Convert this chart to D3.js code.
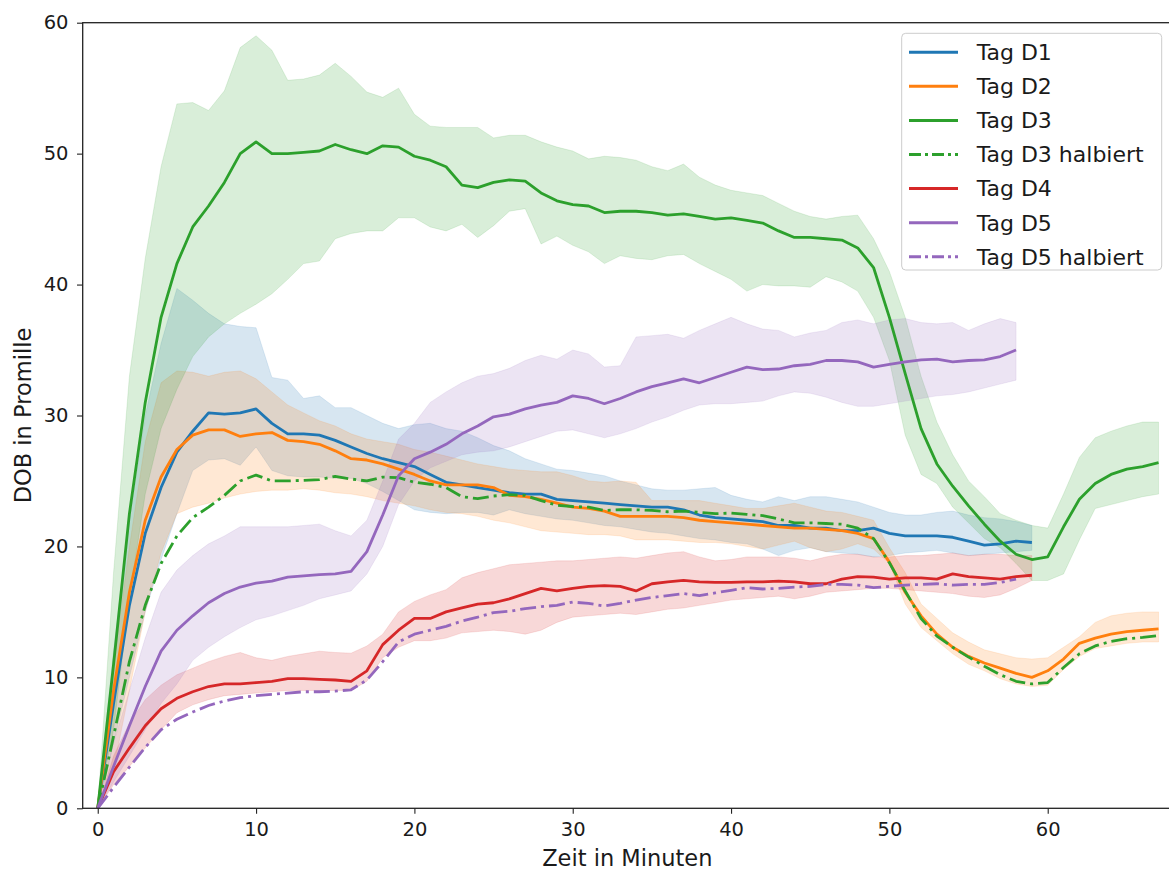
<!DOCTYPE html>
<html>
<head>
<meta charset="utf-8">
<script src="https://cdn.jsdelivr.net/npm/d3@7"></script>
<style>
  body { margin: 0; background: #fff; }
  svg { display: block; font-family: "DejaVu Sans", sans-serif; }
</style>
</head>
<body>
<svg id="chart" width="1169" height="870"></svg>
<script>
// values, one entry per minute (index = minute)
const d1Mean = [0, 8, 15.5, 21, 24.5, 27.2, 28.8, 30.2, 30.1, 30.2, 30.5, 29.4, 28.6, 28.6, 28.5, 28.1, 27.6, 27.1, 26.7, 26.4,
  26.1, 25.5, 24.9, 24.7, 24.5, 24.3, 24.1, 24.0, 24.0, 23.6, 23.5, 23.4, 23.3, 23.2, 23.1, 23.0, 23.0, 22.8, 22.4, 22.2,
  22.1, 22.0, 21.9, 21.6, 21.6, 21.4, 21.4, 21.2, 21.2, 21.4, 21.0, 20.8, 20.8, 20.8, 20.7, 20.4, 20.1, 20.2, 20.4, 20.3];
const d1High = [0, 12, 22, 30, 35.5, 39.7, 38.8, 37.8, 37.0, 36.8, 36.7, 32.9, 32.7, 31.3, 31.5, 30.6, 30.6, 30.0, 29.4, 29.0,
  29.3, 29.4, 29.0, 28.8, 28.3, 27.7, 27.3, 26.7, 26.3, 25.9, 25.8, 25.6, 25.4, 25.0, 24.7, 24.4, 24.3, 24.3, 24.4, 24.5,
  23.9, 23.6, 23.4, 23.8, 23.5, 23.8, 23.8, 23.6, 23.4, 23.0, 22.6, 22.4, 22.4, 22.6, 22.7, 22.4, 22.2, 22.1, 21.9, 21.6];
const d1Low = [0, 5, 10, 15, 19, 22.5, 25.8, 26.6, 26.7, 26.2, 27.6, 25.8, 25.4, 25.3, 25.3, 25.2, 25.2, 24.8, 24.2, 23.5,
  22.8, 22.6, 22.5, 22.6, 22.6, 22.4, 22.8, 22.5, 22.3, 22.1, 22.0, 21.8, 21.6, 21.5, 21.3, 21.1, 21.0, 20.8, 20.6, 20.5,
  20.3, 20.2, 19.8, 19.3, 19.7, 19.9, 19.6, 19.5, 19.4, 19.2, 19.3, 19.5, 19.6, 19.7, 19.5, 19.3, 19.4, 19.5, 19.6, 19.7];

const d2Mean = [0, 9, 16.5, 22, 25.3, 27.4, 28.5, 28.9, 28.9, 28.4, 28.6, 28.7, 28.1, 28.0, 27.8, 27.3, 26.7, 26.6, 26.3, 25.9,
  25.5, 25.0, 24.7, 24.7, 24.7, 24.5, 23.9, 23.8, 23.6, 23.3, 23.0, 22.9, 22.7, 22.3, 22.3, 22.3, 22.3, 22.2, 22.0, 21.9,
  21.8, 21.7, 21.6, 21.5, 21.4, 21.4, 21.3, 21.2, 21.0, 20.6, 18.8, 16.5, 14.7, 13.3, 12.3, 11.6, 11.1, 10.7, 10.3, 10.0,
  10.5, 11.4, 12.6, 13.0, 13.3, 13.5, 13.6, 13.7];
const d2High = [0, 11, 20, 28, 32.5, 33.4, 33.3, 33.0, 33.3, 33.4, 32.8, 31.8, 30.8, 30.2, 29.6, 29.2, 28.6, 28.2, 28.0, 27.8,
  27.4, 27.2, 26.9, 26.6, 26.3, 26.1, 25.9, 25.8, 25.7, 25.7, 25.4, 25.0, 24.9, 25.0, 24.9, 23.5, 23.5, 23.5, 23.5, 23.3,
  23.1, 22.9, 22.9, 23.1, 23.3, 23.0, 22.7, 22.6, 22.3, 22.0, 19.9, 18.0, 15.6, 14.5, 13.4, 12.7, 12.1, 11.8, 11.5, 11.4,
  11.5, 12.3, 13.1, 14.2, 14.7, 14.9, 15.0, 15.0];
const d2Low = [0, 3, 9, 15, 19.5, 22.5, 23.0, 23.3, 23.7, 24.0, 24.2, 24.3, 24.3, 24.4, 24.3, 24.1, 24.0, 23.8, 23.5, 23.3,
  23.1, 22.8, 22.6, 22.5, 22.3, 22.0, 21.8, 21.5, 21.2, 21.1, 21.0, 20.9, 20.9, 20.8, 20.5, 20.5, 20.5, 20.4, 20.3, 20.3,
  20.2, 20.0, 19.8, 20.1, 20.4, 19.9, 19.6, 19.8, 20.2, 19.8, 18.7, 15.6, 13.8, 12.8, 11.8, 11.0, 10.5, 9.9, 9.5, 9.3,
  9.4, 10.6, 11.6, 12.2, 12.4, 12.6, 12.7, 12.7];

const d3Mean = [0, 11, 22.5, 31, 37.5, 41.6, 44.4, 46.0, 47.8, 50.0, 50.9, 50.0, 50.0, 50.1, 50.2, 50.7, 50.3, 50.0, 50.6, 50.5,
  49.8, 49.5, 49.0, 47.6, 47.4, 47.8, 48.0, 47.9, 47.0, 46.4, 46.1, 46.0, 45.5, 45.6, 45.6, 45.5, 45.3, 45.4, 45.2, 45.0,
  45.1, 44.9, 44.7, 44.1, 43.6, 43.6, 43.5, 43.4, 42.8, 41.3, 37.5, 33.2, 29.0, 26.3, 24.6, 23.1, 21.7, 20.4, 19.4, 19.0,
  19.2, 21.5, 23.6, 24.8, 25.5, 25.9, 26.1, 26.4];
const d3High = [0, 18, 33, 42, 49, 53.8, 53.9, 53.3, 54.8, 58.1, 59.0, 57.9, 55.6, 55.7, 56.0, 56.9, 55.9, 54.7, 54.3, 55.0,
  53.0, 52.1, 52.0, 52.0, 52.0, 51.2, 51.4, 51.4, 50.9, 50.5, 50.2, 49.6, 49.8, 49.7, 49.5, 49.0, 48.7, 49.2, 48.2, 47.6,
  47.2, 47.0, 46.8, 46.2, 45.6, 45.2, 45.0, 45.2, 45.3, 43.5, 41.0, 37.5, 33.0, 29.5, 27.0, 25.0, 23.8, 22.5, 22.0, 21.6,
  21.4, 24.0, 26.8, 28.3, 28.8, 29.2, 29.5, 29.5];
const d3Low = [0, 6, 16, 24, 29, 32, 34.5, 36, 37, 37.8, 38.5, 39.3, 40.4, 41.6, 41.8, 43.5, 43.9, 44.1, 44.1, 45.1,
  45.1, 44.4, 44.1, 44.6, 43.6, 44.5, 45.6, 45.8, 43.1, 43.7, 43.0, 42.5, 41.6, 42.2, 42.0, 41.9, 42.2, 42.3, 41.6, 41.0,
  40.4, 39.5, 40.0, 39.9, 39.9, 39.8, 40.6, 40.2, 39.5, 37.5, 34.2, 28.5, 25.5, 24.8, 23.0, 21.8, 20.6, 19.9, 18.7, 17.4,
  17.4, 17.9, 20.5, 22.9, 23.2, 23.5, 23.8, 24.0];
const d3Half = [0, 5.5, 11.2, 15.5, 18.7, 20.8, 22.2, 23.0, 23.9, 25.0, 25.45, 25.0, 25.0, 25.05, 25.1, 25.35, 25.15, 25.0, 25.3, 25.25,
  24.9, 24.75, 24.5, 23.8, 23.65, 23.85, 23.95, 23.9, 23.5, 23.15, 23.05, 23.0, 22.75, 22.8, 22.8, 22.75, 22.65, 22.7, 22.6, 22.5,
  22.55, 22.45, 22.35, 22.1, 21.8, 21.8, 21.75, 21.7, 21.4, 20.6, 18.75, 16.6, 14.5, 13.15, 12.3, 11.55, 10.85, 10.2, 9.7, 9.5,
  9.6, 10.75, 11.8, 12.4, 12.75, 12.95, 13.05, 13.2];

const d4Mean = [0, 2.8, 4.6, 6.3, 7.6, 8.4, 8.9, 9.3, 9.5, 9.5, 9.6, 9.7, 9.9, 9.9, 9.85, 9.8, 9.7, 10.5, 12.5, 13.6,
  14.5, 14.5, 15.0, 15.3, 15.6, 15.7, 16.0, 16.4, 16.8, 16.6, 16.8, 16.95, 17.0, 16.95, 16.6, 17.15, 17.3, 17.4, 17.3, 17.25,
  17.25, 17.3, 17.3, 17.35, 17.3, 17.15, 17.15, 17.5, 17.7, 17.65, 17.5, 17.6, 17.6, 17.5, 17.9, 17.7, 17.6, 17.5, 17.7, 17.8];
const d4High = [0, 4, 6.5, 8.3, 9.4, 10.2, 10.7, 11.2, 11.6, 11.9, 11.5, 11.3, 11.6, 11.8, 12.0, 11.9, 11.85, 12.4, 13.3, 15.0,
  15.8, 16.3, 16.7, 17.6, 18.0, 18.3, 18.6, 18.7, 18.8, 18.9, 18.9, 19.0, 19.1, 19.2, 19.1, 19.3, 19.5, 19.6, 19.2, 18.9,
  19.0, 19.2, 19.2, 19.2, 19.1, 18.9, 19.2, 19.4, 19.4, 19.2, 19.2, 19.3, 19.3, 19.4, 19.5, 19.3, 19.4, 19.4, 19.3, 19.3];
const d4Low = [0, 1.8, 3.2, 4.6, 6.0, 7.3, 7.9, 8.3, 8.6, 8.7, 8.8, 8.9, 9.0, 9.0, 9.0, 9.0, 9.0, 9.7, 11.5, 12.3,
  12.8, 12.8, 13.0, 13.4, 13.5, 13.6, 13.5, 13.3, 13.6, 14.2, 14.6, 14.7, 14.8, 14.9, 14.8, 15.0, 15.2, 15.3, 15.5, 15.7,
  15.9, 16.0, 16.1, 16.2, 16.0, 16.2, 16.5, 16.6, 16.7, 16.8, 16.8, 16.7, 16.6, 16.5, 16.4, 16.2, 16.1, 16.3, 16.8, 17.4];

const d5Mean = [0, 3.2, 6.3, 9.3, 12.0, 13.6, 14.7, 15.7, 16.4, 16.9, 17.2, 17.35, 17.65, 17.75, 17.85, 17.9, 18.1, 19.6, 22.4, 25.4,
  26.7, 27.2, 27.8, 28.6, 29.2, 29.9, 30.1, 30.5, 30.8, 31.0, 31.5, 31.3, 30.9, 31.3, 31.8, 32.2, 32.5, 32.8, 32.5, 32.9,
  33.3, 33.7, 33.5, 33.55, 33.8, 33.9, 34.2, 34.2, 34.1, 33.7, 33.9, 34.1, 34.25, 34.3, 34.1, 34.2, 34.25, 34.5, 35.0];
const d5High = [0, 5, 9, 13, 16.5, 18.2, 19.3, 20.2, 20.8, 21.5, 21.5, 21.5, 21.5, 21.6, 21.7, 21.2, 20.8, 22.0, 25.0, 28.2,
  29.4, 31.0, 31.8, 32.5, 33.0, 33.2, 33.6, 34.2, 34.6, 34.3, 35.0, 34.7, 33.7, 33.8, 36.0, 36.1, 36.2, 35.9, 36.5, 37.0,
  37.5, 37.0, 36.6, 36.5, 36.0, 36.3, 36.5, 37.1, 37.3, 37.0, 37.3, 37.4, 37.1, 37.0, 37.1, 36.5, 37.0, 37.4, 37.1];
const d5Low = [0, 2, 4, 6, 8, 9.5, 11.3, 12.3, 13.1, 13.8, 14.4, 14.7, 15.1, 15.5, 16.0, 16.3, 16.6, 17.9, 20.0, 23.2,
  25.0, 26.0, 26.5, 27.0, 27.2, 27.3, 27.6, 28.0, 28.4, 28.8, 28.9, 28.6, 28.3, 28.6, 29.0, 29.5, 29.9, 30.4, 30.8, 30.9,
  30.9, 31.0, 31.1, 31.5, 31.8, 31.7, 31.4, 31.0, 30.7, 30.7, 30.9, 31.1, 31.3, 31.5, 31.6, 31.8, 32.1, 32.4, 32.7];
const d5Half = [0, 1.6, 3.15, 4.65, 6.0, 6.8, 7.35, 7.85, 8.2, 8.45, 8.6, 8.7, 8.8, 8.9, 8.9, 8.95, 9.05, 9.8, 11.2, 12.7,
  13.3, 13.6, 13.9, 14.3, 14.6, 14.95, 15.05, 15.25, 15.4, 15.5, 15.75, 15.65, 15.45, 15.65, 15.9, 16.1, 16.25, 16.4, 16.25, 16.45,
  16.65, 16.85, 16.75, 16.8, 16.9, 16.95, 17.1, 17.1, 17.05, 16.85, 16.95, 17.05, 17.1, 17.15, 17.05, 17.1, 17.1, 17.25, 17.5];

const seriesNames = ["Tag D1", "Tag D2", "Tag D3", "Tag D3 halbiert", "Tag D4", "Tag D5", "Tag D5 halbiert"];
const xTicks = [0, 10, 20, 30, 40, 50, 60];
const yTicks = [0, 10, 20, 30, 40, 50, 60];

const C_BLUE = "#1f77b4", C_ORANGE = "#ff7f0e", C_GREEN = "#2ca02c", C_RED = "#d62728", C_PURPLE = "#9467bd";

const series = [
  { name: seriesNames[0], mean: d1Mean, low: d1Low, high: d1High, color: C_BLUE, dash: null },
  { name: seriesNames[1], mean: d2Mean, low: d2Low, high: d2High, color: C_ORANGE, dash: null },
  { name: seriesNames[2], mean: d3Mean, low: d3Low, high: d3High, color: C_GREEN, dash: null },
  { name: seriesNames[3], mean: d3Half, color: C_GREEN, dash: "16,5,3,5" },
  { name: seriesNames[4], mean: d4Mean, low: d4Low, high: d4High, color: C_RED, dash: null },
  { name: seriesNames[5], mean: d5Mean, low: d5Low, high: d5High, color: C_PURPLE, dash: null },
  { name: seriesNames[6], mean: d5Half, color: C_PURPLE, dash: "16,5,3,5" }
];

const svg = d3.select("#chart");
const plot = { left: 82.7, right: 1172, top: 22.7, bottom: 808.3 };

const x = d3.scaleLinear().domain([-0.95, 67.85]).range([plot.left, plot.right]);
const y = d3.scaleLinear().domain([0, 60]).range([plot.bottom, plot.top]);

svg.append("defs").append("clipPath").attr("id", "clip")
  .append("rect")
  .attr("x", plot.left).attr("y", plot.top)
  .attr("width", plot.right - plot.left).attr("height", plot.bottom - plot.top);

const gData = svg.append("g").attr("clip-path", "url(#clip)");

// bands first
const area = d3.area()
  .x((d, i) => x(i))
  .y0(d => y(d[0]))
  .y1(d => y(d[1]));

gData.selectAll("path.band")
  .data(series.filter(s => s.low))
  .join("path")
  .attr("class", "band")
  .attr("d", s => area(s.low.map((v, i) => [v, s.high[i]])))
  .attr("fill", s => s.color)
  .attr("fill-opacity", 0.18)
  .attr("stroke", s => s.color)
  .attr("stroke-opacity", 0.12)
  .attr("stroke-width", 1);

// then the lines
const line = d3.line()
  .x((d, i) => x(i))
  .y(d => y(d));

gData.selectAll("path.line")
  .data(series)
  .join("path")
  .attr("class", "line")
  .attr("d", s => line(s.mean))
  .attr("fill", "none")
  .attr("stroke", s => s.color)
  .attr("stroke-width", 2.8)
  .attr("stroke-linejoin", "round")
  .attr("stroke-dasharray", s => s.dash);

// axes
const xAxis = svg.append("g")
  .attr("transform", `translate(0,${plot.bottom})`)
  .call(d3.axisBottom(x).tickValues(xTicks).tickFormat(d3.format("d"))
    .tickSize(5.5).tickPadding(8).tickSizeOuter(0));
const yAxis = svg.append("g")
  .attr("transform", `translate(${plot.left},0)`)
  .call(d3.axisLeft(y).tickValues(yTicks).tickFormat(d3.format("d"))
    .tickSize(5.7).tickPadding(8.5).tickSizeOuter(0));

[xAxis, yAxis].forEach(g => {
  g.select(".domain").remove();
  g.selectAll(".tick line").attr("stroke", "#222").attr("stroke-width", 1.1);
  g.selectAll(".tick text")
    .attr("fill", "#1a1a1a")
    .style("font-size", "19.5px")
    .style("font-family", "DejaVu Sans, sans-serif");
});

// spines
svg.append("rect")
  .attr("x", plot.left).attr("y", plot.top)
  .attr("width", plot.right - plot.left).attr("height", plot.bottom - plot.top)
  .attr("fill", "none")
  .attr("stroke", "#222")
  .attr("stroke-width", 1.3);

// axis titles
svg.append("text")
  .attr("x", (plot.left + plot.right) / 2)
  .attr("y", 866)
  .attr("text-anchor", "middle")
  .attr("fill", "#1a1a1a")
  .style("font-size", "22.5px")
  .text("Zeit in Minuten");

svg.append("text")
  .attr("transform", `translate(30.5,${(plot.top + plot.bottom) / 2}) rotate(-90)`)
  .attr("text-anchor", "middle")
  .attr("fill", "#1a1a1a")
  .style("font-size", "22.5px")
  .text("DOB in Promille");

// legend
const legend = svg.append("g");
legend.append("rect")
  .attr("x", 901.7).attr("y", 33.3)
  .attr("width", 260).attr("height", 236.7)
  .attr("rx", 4)
  .attr("fill", "#fff").attr("fill-opacity", 0.8)
  .attr("stroke", "#cccccc").attr("stroke-width", 1);

const rowY = d3.scaleLinear().domain([0, 6]).range([52.3, 256.7]);
const rows = legend.selectAll("g.row")
  .data(series)
  .join("g")
  .attr("class", "row")
  .attr("transform", (s, i) => `translate(0,${rowY(i)})`);

rows.append("line")
  .attr("x1", 909).attr("x2", 958)
  .attr("stroke", s => s.color)
  .attr("stroke-width", 3)
  .attr("stroke-dasharray", s => s.dash ? "12,4,3,4" : null);

rows.append("text")
  .attr("x", 976.7)
  .attr("dy", "0.36em")
  .attr("fill", "#1a1a1a")
  .style("font-size", "22px")
  .text(s => s.name);
</script>
</body>
</html>
